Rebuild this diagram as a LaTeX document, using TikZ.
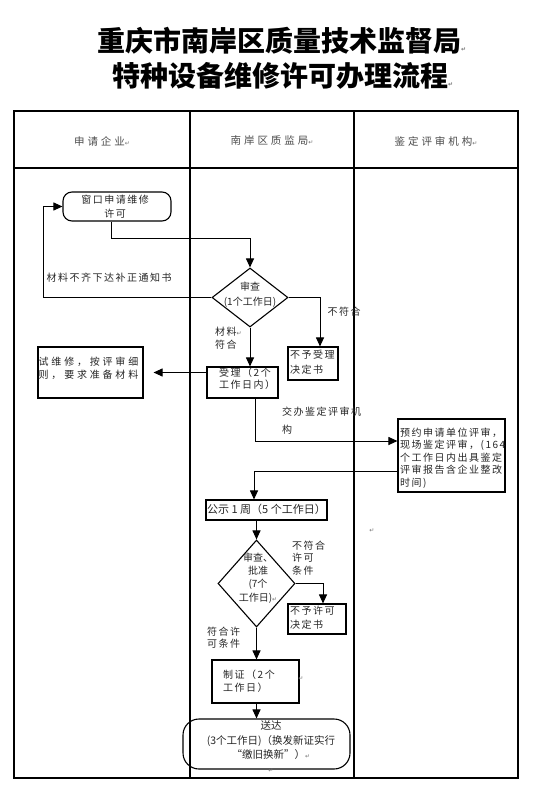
\documentclass[tikz,border=0pt]{standalone}
\usepackage{fontspec}
\usetikzlibrary{arrows.meta,shapes.geometric}
\newfontfamily\cj[LetterSpace=15]{Noto Sans CJK SC}
\newfontfamily\cjw[LetterSpace=28]{Noto Sans CJK SC}
\newfontfamily\cjn{Noto Sans CJK SC}
\newfontfamily\djv{DejaVu Sans}
\newcommand\pmark{{\djv\fontsize{6}{6}\selectfont\textcolor{black!55}{↵}}}
\begin{document}
\begin{tikzpicture}[x=1pt,y=-1pt,
  tbl/.style={line width=1.3pt},
  box/.style={draw,line width=1.1pt,inner sep=0pt},
  arr/.style={line width=1pt,-{Triangle[length=9pt,width=8pt]}},
  lbl/.style={inner sep=0pt,text=black!85,font=\cj\fontsize{10}{13}\selectfont,align=left},
  hdr/.style={inner sep=0pt,text=black!70,font=\cjw\fontsize{10.5}{12}\selectfont},
  ttl/.style={inner sep=0pt,anchor=west,font=\cjn\bfseries\fontsize{28}{34}\selectfont},
]
\useasboundingbox (0,0) rectangle (534,799);
\fill[white] (0,0) rectangle (534,799);

% title
\node[ttl] (t1) at (97,41) {重庆市南岸区质量技术监督局\pmark};
\node[ttl] (t2) at (112,76) {特种设备维修许可办理流程\pmark};

% table
\draw[tbl] (14,111) rectangle (518,778);
\draw[tbl] (14,168) -- (518,168);
\draw[tbl] (190,111) -- (190,778);
\draw[tbl] (354,111) -- (354,778);
\node[hdr] (h1) at (102,141) {申请企业\pmark};
\node[hdr] (h2) at (272,141) {南岸区质监局\pmark};
\node[hdr] (h3) at (436,141) {鉴定评审机构\pmark};

% boxes
\node[box,rounded corners=9pt,minimum width=108pt,minimum height=29pt] (apply) at (117,206.5) {};
\node[lbl,align=center,font=\cj\fontsize{10}{14}\selectfont] (applyt) at (115,207) {窗口申请维修\\许可};

\node[draw,diamond,line width=1.1pt,minimum width=76pt,minimum height=59pt,inner sep=0pt] (d1) at (250,297.5) {};
\node[lbl,align=center,font=\cjn\fontsize{10}{15}\selectfont] (d1t) at (250,294.5) {审查\\(1个工作日)};

\node[box,minimum width=50pt,minimum height=33pt] (rej1) at (313,363.5) {};
\node[lbl,anchor=west,font=\cj\fontsize{10}{15}\selectfont] (rej1t) at (290,362.5) {不予受理\\决定书};

\node[box,minimum width=71pt,minimum height=31pt] (acc) at (242.5,382.5) {};
\node[lbl,anchor=west,font=\cj\fontsize{10}{12}\selectfont] (acct) at (219,379) {受理（2个\\工作日内）};

\node[box,minimum width=105pt,minimum height=51pt] (trial) at (90.5,372.5) {};
\node[lbl,anchor=west,font=\cjw\fontsize{10}{13}\selectfont] (trialt) at (38.5,368) {试维修，按评审细\\则，要求准备材料};

\node[box,minimum width=107pt,minimum height=73pt] (appr) at (451.5,455.5) {};
\node[lbl,anchor=west,font=\cj\fontsize{10}{12.5}\selectfont] (apprt) at (400,458) {预约申请单位评审，\\现场鉴定评审，(164\\个工作日内出具鉴定\\评审报告含企业整改\\时间)};

\node[box,minimum width=121pt,minimum height=20pt] (pub) at (266.5,510) {};
\node[lbl,font=\cjn\fontsize{11}{13}\selectfont] (pubt) at (266.5,509.5) {公示 1 周（5 个工作日）};

\node[draw,diamond,line width=1.1pt,minimum width=77pt,minimum height=87pt,inner sep=0pt] (d2) at (256.5,583.5) {};
\node[lbl,align=center,font=\cjn\fontsize{10}{13.3}\selectfont] (d2t) at (258,578) {审查、\\批准\\(7个\\工作日)\pmark};

\node[box,minimum width=58pt,minimum height=30pt] (rej2) at (317,619) {};
\node[lbl,anchor=west,font=\cj\fontsize{10}{14}\selectfont] (rej2t) at (290,618) {不予许可\\决定书};

\node[box,minimum width=87pt,minimum height=43pt] (cert) at (255.5,681.5) {};
\node[lbl,anchor=west,font=\cj\fontsize{10}{13}\selectfont] (certt) at (223,681.5) {制证（2个\\工作日）};
\node[inner sep=0pt] (certm) at (301,679) {\pmark};

\node[box,rounded corners=16pt,minimum width=167pt,minimum height=50pt] (dlv) at (266.5,744) {};
\node[lbl,align=center,font=\cjn\fontsize{10.5}{14.3}\selectfont] (dlvt) at (271,747) {送达\\(3个工作日)（换发新证实行\\“缴旧换新”）\pmark\\\pmark};

% labels
\node[lbl] (l1) at (109,278) {材料不齐下达补正通知书};
\node[lbl] (l2) at (344,312) {不符合};
\node[lbl,anchor=west] (l3) at (215,338) {材料\pmark\\符合};
\node[lbl,anchor=west,font=\cj\fontsize{10}{18}\selectfont] (l4) at (282,421) {交办鉴定评审机\\构};
\node[lbl,anchor=west,font=\cj\fontsize{10}{12.5}\selectfont] (l5) at (292,558) {不符合\\许可\\条件};
\node[lbl,anchor=west,font=\cj\fontsize{10}{12}\selectfont] (l6) at (207,638) {符合许\\可条件};
\node[inner sep=0pt] (stray) at (372,531) {\pmark};

% connectors
\coordinate (j1) at (111,239);
\draw[arr] (j1 |- apply.south) -- (j1) -| (d1.north);
\coordinate (j2) at (43,297.5);
\draw[arr] (d1.west) -- (j2) |- (apply.west);
\coordinate (j3) at (320,297.5);
\draw[arr] (d1.east) -- (j3) -- (j3 |- rej1.north);
\draw[arr] (d1.south) -- (d1.south |- acc.north);
\draw[arr,shorten >=10pt] (acc.west |- trial.east) -- (trial.east);
\coordinate (j6) at (255,441);
\draw[arr] (j6 |- acc.south) -- (j6) -- (j6 -| appr.west);
\coordinate (j7) at (254,471);
\draw[arr] (j7 -| appr.west) -- (j7) -- (j7 |- pub.north);
\draw[arr] (d2.north |- pub.south) -- (d2.north);
\coordinate (j9) at (323,583.5);
\draw[arr] (d2.east) -- (j9) -- (j9 |- rej2.north);
\draw[arr] (d2.south) -- (d2.south |- cert.north);
\draw[arr] (cert.south -| d2.south) -- (d2.south |- dlv.north);
\end{tikzpicture}
\end{document}
